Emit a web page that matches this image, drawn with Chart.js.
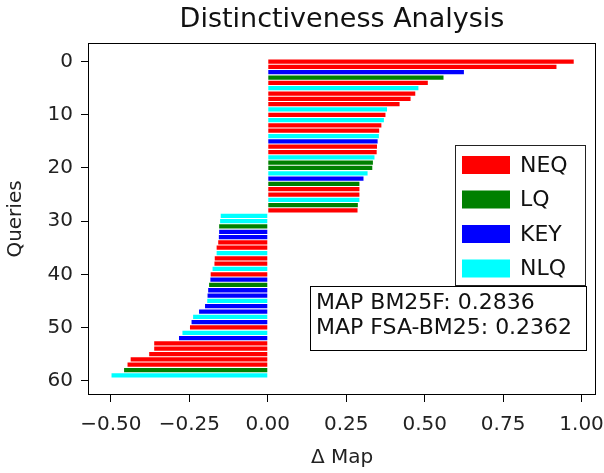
<!DOCTYPE html>
<html>
<head>
<meta charset="utf-8">
<script src="https://cdn.jsdelivr.net/npm/chart.js@4.4.0/dist/chart.umd.min.js"></script>
<style>
  html, body { margin: 0; padding: 0; background: #fff; }
</style>
</head>
<body>
<canvas id="myChart" width="604" height="473"></canvas>
<script>
// query types, legend order
var queryTypes = ['NEQ', 'LQ', 'KEY', 'NLQ'];
var typeColors = ['#ff0000', '#008000', '#0000ff', '#00ffff'];

// delta MAP per query (index = query number)
var deltaMap = [
    0.975, 0.92, 0.625, 0.56, 0.51, 0.48, 0.47, 0.455, 0.42, 0.38,
    0.375, 0.37, 0.362, 0.355, 0.354, 0.35, 0.348, 0.347, 0.34, 0.335,
    0.333, 0.318, 0.305, 0.292, 0.292, 0.292, 0.292, 0.287, 0.286,
    -0.15, -0.152, -0.155, -0.155, -0.156, -0.158, -0.163, -0.163, -0.169, -0.17,
    -0.176, -0.182, -0.183, -0.187, -0.19, -0.192, -0.193, -0.2, -0.219, -0.238,
    -0.243, -0.248, -0.272, -0.283, -0.362, -0.362, -0.378, -0.437, -0.447, -0.458, -0.498
];
var queryType = [
    'NEQ', 'NEQ', 'KEY', 'LQ', 'NEQ', 'NLQ', 'NEQ', 'NEQ', 'NEQ', 'NLQ',
    'NEQ', 'NLQ', 'NEQ', 'NEQ', 'NLQ', 'KEY', 'NEQ', 'NEQ', 'NLQ', 'LQ',
    'LQ', 'NLQ', 'KEY', 'LQ', 'NEQ', 'NEQ', 'NLQ', 'LQ', 'NEQ',
    'NLQ', 'NLQ', 'LQ', 'KEY', 'KEY', 'NEQ', 'NEQ', 'NLQ', 'NEQ', 'NEQ',
    'NLQ', 'NEQ', 'KEY', 'LQ', 'KEY', 'KEY', 'NLQ', 'KEY', 'KEY', 'NLQ',
    'KEY', 'NEQ', 'NLQ', 'KEY', 'NEQ', 'NEQ', 'NEQ', 'NEQ', 'NEQ', 'LQ', 'NLQ'
];

var xTicks = [-0.5, -0.25, 0, 0.25, 0.5, 0.75, 1.0];
var yTicks = [0, 10, 20, 30, 40, 50, 60];
var mapScores = ['MAP BM25F: 0.2836', 'MAP FSA-BM25: 0.2362'];

var FONT = '"DejaVu Sans", sans-serif';

var datasets = queryTypes.map(function (t, k) {
    var pts = [];
    deltaMap.forEach(function (v, i) {
        if (queryType[i] === t) pts.push({ x: v, y: i });
    });
    return {
        label: t,
        data: pts,
        backgroundColor: typeColors[k],
        borderWidth: 0,
        barPercentage: 0.8,
        categoryPercentage: 1.0,
        grouped: false
    };
});

// frame, title, legend and text box like the original figure
var extras = {
    id: 'extras',
    afterDraw: function (chart) {
        var c = chart.ctx, xs = chart.scales.x, ys = chart.scales.y;
        var L = Math.round(xs.getPixelForValue(xs.min)), R = Math.round(xs.getPixelForValue(xs.max));
        var T = Math.round(ys.getPixelForValue(ys.min)), B = Math.round(ys.getPixelForValue(ys.max));
        c.save();
        c.strokeStyle = '#000';
        c.lineWidth = 1;
        c.strokeRect(L + 0.5, T + 0.5, R - L - 1, B - T - 1);

        c.fillStyle = '#111';
        c.font = '27px ' + FONT;
        c.textAlign = 'center';
        c.textBaseline = 'middle';
        c.fillText('Distinctiveness Analysis', (L + R) / 2, 20);

        // legend
        var lx = 455, ly = 145, lw = 130, lh = 140;
        c.fillStyle = '#fff';
        c.fillRect(lx, ly, lw, lh);
        c.strokeStyle = '#222';
        c.strokeRect(lx + 0.5, ly + 0.5, lw, lh);
        c.font = '22px ' + FONT;
        c.textAlign = 'left';
        queryTypes.forEach(function (t, k) {
            var cy = 165 + k * 34.5;
            c.fillStyle = typeColors[k];
            c.fillRect(462, cy - 9, 48, 18);
            c.fillStyle = '#111';
            c.fillText(t, 520, cy + 1);
        });

        // MAP text box
        var bx = 310, by = 286, bw = 276, bh = 64;
        c.fillStyle = '#fff';
        c.fillRect(bx, by, bw, bh);
        c.strokeStyle = '#000';
        c.strokeRect(bx + 0.5, by + 0.5, bw, bh);
        c.fillStyle = '#111';
        c.font = '22px ' + FONT;
        mapScores.forEach(function (s, k) {
            c.fillText(s, 316, 303 + k * 25);
        });
        c.restore();
    }
};

var ctx = document.getElementById('myChart').getContext('2d');
var myChart = new Chart(ctx, {
    type: 'bar',
    data: { datasets: datasets },
    options: {
        indexAxis: 'y',
        responsive: false,
        animation: false,
        layout: { padding: { top: 43, right: 8, left: 0, bottom: 0 } },
        plugins: {
            legend: { display: false },
            tooltip: { enabled: false }
        },
        scales: {
            x: {
                type: 'linear',
                offset: false,
                min: -0.573,
                max: 1.046,
                afterBuildTicks: function (s) { s.ticks = xTicks.map(function (v) { return { value: v }; }); },
                afterFit: function (s) { s.height = 78; s.paddingLeft = 0; s.paddingRight = 8; },
                grid: { drawOnChartArea: false, offset: false, tickLength: 7, color: '#000' },
                border: { display: false },
                ticks: {
                    color: '#222',
                    font: { family: FONT, size: 20 },
                    padding: 11,
                    maxRotation: 0,
                    callback: function (v) { return v.toFixed(2).replace('-', '\u2212'); }
                },
                title: {
                    display: true,
                    text: '\u0394 Map',
                    color: '#222',
                    font: { family: FONT, size: 20 },
                    padding: { top: 0, bottom: 3 }
                }
            },
            y: {
                type: 'linear',
                offset: false,
                reverse: true,
                min: -3.5,
                max: 62.7,
                afterBuildTicks: function (s) { s.ticks = yTicks.map(function (v) { return { value: v }; }); },
                afterFit: function (s) { s.width = 88; },
                grid: { drawOnChartArea: false, offset: false, tickLength: 7, color: '#000' },
                border: { display: false },
                ticks: {
                    color: '#222',
                    font: { family: FONT, size: 20 },
                    padding: 8,
                    callback: function (v) { return String(v); }
                },
                title: {
                    display: true,
                    text: 'Queries',
                    color: '#222',
                    font: { family: FONT, size: 20 },
                    padding: { top: 4, bottom: 0 }
                }
            }
        }
    },
    plugins: [extras]
});
</script>
</body>
</html>
